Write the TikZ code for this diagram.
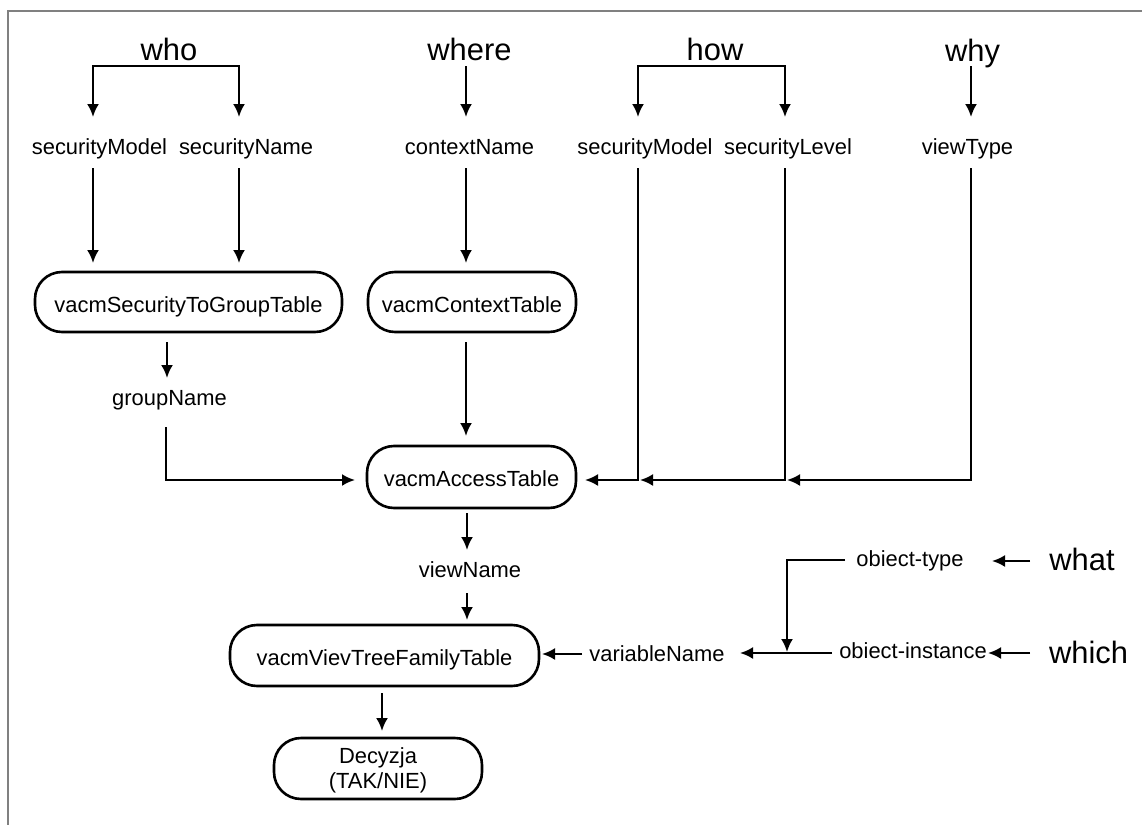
\documentclass[tikz,border=0pt]{standalone}
\usepackage{fontspec}
\setmainfont{Liberation Sans}
\usetikzlibrary{arrows.meta}
\begin{document}
\begin{tikzpicture}[x=1bp,y=-1bp,
  lbl/.style={font=\fontsize{22}{26}\selectfont, inner sep=0pt, anchor=base},
  big/.style={font=\fontsize{31}{37}\selectfont, inner sep=0pt, anchor=base},
  tbl/.style={draw, line width=2.6bp, rounded corners=27bp, inner sep=0pt,
              font=\fontsize{22}{26}\selectfont, text depth=0pt},
  tip/.tip={Latex[length=13bp,width=12bp]},
  arr/.style={line width=2.2bp, -tip},
  twoarr/.style={line width=2.2bp, tip-tip},
  frame/.style={draw=gray, line width=2bp}]

\useasboundingbox (0,0) rectangle (1142,825);
\draw[frame] (8,825) -- (8,11) -- (1142,11);

% questions
\node[big] (who)   at (169,60)    {who};
\node[big] (where) at (469.5,60)  {where};
\node[big] (how)   at (715,60)    {how};
\node[big] (why)   at (972.5,61)  {why};
\node[big] (what)  at (1082,570)  {what};
\node[big] (which) at (1088.5,663){which};

% parameters
\node[lbl] (smA) at (99.5,154) {securityModel};
\node[lbl] (snA) at (246,154)  {securityName};
\node[lbl] (cn)  at (469.5,154){contextName};
\node[lbl] (smB) at (645,154)  {securityModel};
\node[lbl] (sl)  at (788,154)  {securityLevel};
\node[lbl] (vt)  at (967.5,154){viewType};
\node[lbl] (gn)  at (169.5,405){groupName};
\node[lbl] (vn)  at (470,577)  {viewName};
\node[lbl] (ot)  at (910,566)  {obiect-type};
\node[lbl] (oi)  at (913,658)  {obiect-instance};
\node[lbl] (var) at (657,661)  {variableName};

% tables
\node[tbl, minimum width=307bp, minimum height=60bp, text height=21bp] (gtab) at (188.5,302) {vacmSecurityToGroupTable};
\node[tbl, minimum width=208bp, minimum height=60bp, text height=21bp] (ctab) at (472,302) {vacmContextTable};
\node[tbl, minimum width=209bp, minimum height=62bp, text height=18bp] (atab) at (471.5,477) {vacmAccessTable};
\node[tbl, minimum width=309bp, minimum height=61bp, text height=19bp] (vtab) at (384.5,655.5) {vacmVievTreeFamilyTable};
\node[tbl, minimum width=208bp, minimum height=61bp, align=center,
      font=\fontsize{22}{25}\selectfont] (dec) at (378,768.5) {Decyzja\\(TAK/NIE)};

% connector end points
\coordinate (whoL) at (93,66);   \coordinate (whoR) at (239,66);
\coordinate (howL) at (638,66);  \coordinate (howR) at (785,66);
\coordinate (whereS) at (466,66); \coordinate (whyS) at (971,66);
\coordinate (smAin) at (93,117);  \coordinate (snAin) at (239,117);
\coordinate (cnIn)  at (466,117); \coordinate (smBin) at (638,117);
\coordinate (slIn)  at (785,117); \coordinate (vtIn)  at (971,117);
\coordinate (smAout) at (93,168); \coordinate (snAout) at (239,168);
\coordinate (cnOut)  at (466,168); \coordinate (smBout) at (638,168);
\coordinate (slOut)  at (785,168); \coordinate (vtOut)  at (971,168);
\coordinate (gtabIn1) at (93,263); \coordinate (gtabIn2) at (239,263);
\coordinate (ctabIn) at (466,263);
\coordinate (gtabOut) at (167,342); \coordinate (gnIn) at (167,378);
\coordinate (gnOut) at (166,427); \coordinate (atabInL) at (355,480);
\coordinate (ctabOut) at (466,342); \coordinate (atabInT) at (466,436);
\coordinate (atabInR) at (585,480); \coordinate (jA) at (640,480); \coordinate (jB) at (787,480);
\coordinate (atabOut) at (467,513); \coordinate (vnIn) at (467,550);
\coordinate (vnOut) at (467,593); \coordinate (vtabIn) at (467,620);
\coordinate (vtabOut) at (382,693); \coordinate (decIn) at (382,731);
\coordinate (varOut) at (582,654); \coordinate (vtabInR) at (542,654);
\coordinate (oiOut) at (832,653); \coordinate (varIn) at (740,653);
\coordinate (otOut) at (845,560); \coordinate (jC) at (787,652);
\coordinate (whatOut) at (1030,561); \coordinate (otIn) at (992,561);
\coordinate (whichOut) at (1030,653); \coordinate (oiIn) at (988,653);

% who / how brackets and single question arrows
\draw[twoarr] (smAin) -- (whoL) -- (whoR) -- (snAin);
\draw[twoarr] (smBin) -- (howL) -- (howR) -- (slIn);
\draw[arr] (whereS) -- (cnIn);
\draw[arr] (whyS) -- (vtIn);

% parameters into tables
\draw[arr] (smAout) -- (gtabIn1);
\draw[arr] (snAout) -- (gtabIn2);
\draw[arr] (cnOut) -- (ctabIn);
\draw[arr] (gtabOut) -- (gnIn);
\draw[arr] (gnOut) |- (atabInL);
\draw[arr] (ctabOut) -- (atabInT);
\draw[arr] (smBout) |- (atabInR);
\draw[arr] (slOut) |- (jA);
\draw[arr] (vtOut) |- (jB);
\draw[arr] (atabOut) -- (vnIn);
\draw[arr] (vnOut) -- (vtabIn);
\draw[arr] (vtabOut) -- (decIn);

% object side
\draw[arr] (varOut) -- (vtabInR);
\draw[arr] (oiOut) -- (varIn);
\draw[arr] (otOut) -| (jC);
\draw[arr] (whatOut) -- (otIn);
\draw[arr] (whichOut) -- (oiIn);
\end{tikzpicture}
\end{document}
